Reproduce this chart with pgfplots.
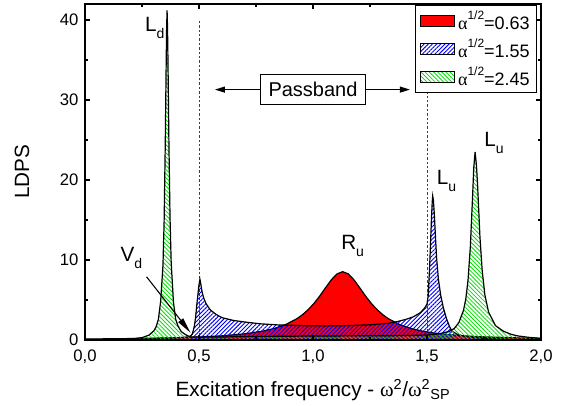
\documentclass[border=0pt]{standalone}
\usepackage{pgfplots}
\pgfplotsset{compat=1.18}
\usepackage{pgfplotstable}
\usepackage{fontspec}
\setmainfont{Liberation Sans}
\newfontfamily\greek{Liberation Serif}
\usetikzlibrary{patterns.meta,arrows.meta}
\definecolor{hgreen}{RGB}{0,225,0}
\newcommand{\lab}[2]{#1\raisebox{-0.33em}{\fontsize{10.5}{10.5}\selectfont #2}}
\newcommand{\sq}{\raisebox{0.55em}{\fontsize{9}{9}\selectfont 1/2}}

\pgfplotstableread{
x y
0.00 0.12
0.20 0.18
0.40 0.28
0.50 0.375
0.60 0.52
0.70 0.77
0.78 1.11
0.83 1.44
0.88 1.93
0.93 2.67
0.955 3.19
0.98 3.82
1.005 4.60
1.03 5.51
1.055 6.53
1.08 7.51
1.105 8.26
1.13 8.54
1.155 8.26
1.18 7.51
1.205 6.53
1.23 5.51
1.255 4.60
1.28 3.82
1.305 3.19
1.33 2.67
1.38 1.93
1.43 1.44
1.48 1.11
1.53 0.87
1.63 0.58
1.73 0.41
1.93 0.24
2.00 0.20
}\redtab

\pgfplotstableread{
x y
0.00 0.05
0.10 0.08
0.20 0.12
0.30 0.18
0.40 0.27
0.44 0.35
0.46 0.45
0.47 0.7
0.475 1.2
0.48 1.8
0.485 2.8
0.49 4.3
0.495 5.6
0.50 6.9
0.504 7.6
0.508 7.0
0.513 6.1
0.52 5.3
0.53 4.6
0.54 4.15
0.55 3.75
0.575 3.2
0.60 2.8
0.65 2.45
0.70 2.25
0.77 2.02
0.85 1.88
0.95 1.80
1.05 1.76
1.15 1.80
1.25 1.90
1.33 2.08
1.37 2.3
1.41 2.6
1.44 2.9
1.47 3.4
1.49 4.0
1.50 4.5
1.505 5.5
1.511 8.8
1.516 12.5
1.520 15.5
1.523 17.3
1.525 18.0
1.528 17.5
1.532 15.8
1.537 13.0
1.542 10.3
1.55 7.6
1.56 5.6
1.572 4.0
1.585 2.7
1.60 1.6
1.61 1.1
1.63 0.75
1.66 0.5
1.70 0.32
1.80 0.15
1.90 0.08
2.00 0.05
}\bluetab

\pgfplotstableread{
x y
0.00 0.0
0.10 0.03
0.20 0.12
0.25 0.3
0.28 0.6
0.302 1.15
0.312 1.65
0.322 2.6
0.332 4.9
0.342 9.4
0.347 14.8
0.352 24.5
0.356 34.5
0.358 39.0
0.360 41.2
0.362 39.0
0.364 34.8
0.368 24.8
0.373 15.2
0.378 9.7
0.388 4.7
0.398 2.55
0.408 1.75
0.422 1.05
0.442 0.65
0.46 0.4
0.50 0.35
0.60 0.38
0.80 0.45
1.00 0.5
1.20 0.52
1.40 0.55
1.50 0.62
1.55 0.75
1.60 1.1
1.62 1.45
1.64 2.2
1.66 3.7
1.67 5.1
1.68 7.5
1.69 11.6
1.70 18.0
1.705 21.5
1.711 23.5
1.717 21.8
1.722 19.3
1.732 13.0
1.742 8.7
1.754 5.6
1.77 3.5
1.80 1.8
1.835 1.1
1.87 0.7
1.90 0.5
1.95 0.32
2.00 0.2
}\greentab

\begin{document}
\begin{tikzpicture}
\begin{axis}[
  scale only axis, width=342pt, height=252pt,
  xmin=0, xmax=2, ymin=0, ymax=42,
  xtick={0,0.5,1,1.5,2}, minor x tick num=1,
  ytick={0,10,20,30,40}, minor y tick num=1,
  tick align=inside, major tick length=4pt, minor tick length=2.5pt,
  /pgf/number format/assume math mode=true,
  xticklabel style={yshift=-4pt, /pgf/number format/.cd, fixed, fixed zerofill, precision=1, use comma},
  yticklabel style={xshift=-1.5pt, yshift=0.5pt},
  tick label style={font=\fontsize{12.5}{14}\selectfont},
  axis line style={line width=0.9pt},
  every tick/.style={black, line width=0.8pt},
  axis on top,
  xlabel={Excitation frequency - {\greek ω}\textsuperscript{2}/{\greek ω}\textsuperscript{2}\textsubscript{SP}},
  ylabel={LDPS},
  label style={font=\fontsize{15.5}{18}\selectfont},
  xlabel style={yshift=-4.5pt},
  ylabel style={yshift=16pt},
  legend style={at={(rel axis cs:0.991,0.997)}, anchor=north east, draw=black, line width=0.75pt,
    fill=white, font=\fontsize{13.5}{16}\selectfont, row sep=1.5pt, inner xsep=3pt, inner ysep=2pt,
    cells={anchor=west}},
  legend image code/.code={\draw[#1, line width=0.75pt] (0pt,-4.25pt) rectangle (26pt,4.25pt);},
]
\addplot[black!75, dash pattern=on 1.8pt off 1.5pt, line width=0.6pt, forget plot] coordinates {(0.5,0) (0.5,40)};
\addplot[black!75, dash pattern=on 1.8pt off 1.5pt, line width=0.6pt, forget plot] coordinates {(1.5,0) (1.5,40)};

\addplot[draw=black, line width=0.9pt, fill=red] table[x=x,y=y] {\redtab} \closedcycle;
\addlegendentry{{\greek α}\sq=0.63}
\addplot[draw=black, line width=0.9pt, pattern={Lines[angle=45,distance=2.2pt,line width=0.7pt]}, pattern color=blue] table[x=x,y=y] {\bluetab} \closedcycle;
\addlegendentry{{\greek α}\sq=1.55}
\addplot[draw=black, line width=0.9pt, pattern={Lines[angle=-45,distance=2.2pt,line width=0.6pt]}, pattern color=hgreen] table[x=x,y=y] {\greentab} \closedcycle;
\addlegendentry{{\greek α}\sq=2.45}

\node[draw, fill=white, line width=0.75pt, font=\fontsize{15}{18}\selectfont, inner xsep=6pt, minimum height=22.5pt] (pb) at (axis cs:1.0,31.3) {Passband};
\draw[line width=0.8pt, -{Triangle[length=7.5pt,width=4.5pt]}] (pb.west) -- (axis cs:0.57,31.3);
\draw[line width=0.8pt, -{Triangle[length=7.5pt,width=4.5pt]}] (pb.east) -- (axis cs:1.425,31.3);

\node[anchor=base west, inner sep=0pt, font=\fontsize{15.5}{18}\selectfont] at (axis cs:0.263,38.5) {\lab{L}{d}};
\node[anchor=base west, inner sep=0pt, font=\fontsize{15.5}{18}\selectfont] at (axis cs:0.155,9.75) {\lab{V}{d}};
\node[anchor=base west, inner sep=0pt, font=\fontsize{15.5}{18}\selectfont] at (axis cs:1.542,19.4) {\lab{L}{u}};
\node[anchor=base west, inner sep=0pt, font=\fontsize{15.5}{18}\selectfont] at (axis cs:1.75,24.2) {\lab{L}{u}};
\node[anchor=base west, inner sep=0pt, font=\fontsize{15.5}{18}\selectfont] at (axis cs:1.123,11.25) {\lab{R}{u}};
\draw[line width=0.8pt, -{Triangle[length=12pt,width=4.5pt]}] (axis cs:0.27,7.9) -- (axis cs:0.463,0.9);
\end{axis}
\path ([shift={(-63.75pt,-49.5pt)}]current axis.south west) rectangle ([shift={(24.75pt,3pt)}]current axis.north east);
\end{tikzpicture}
\end{document}
